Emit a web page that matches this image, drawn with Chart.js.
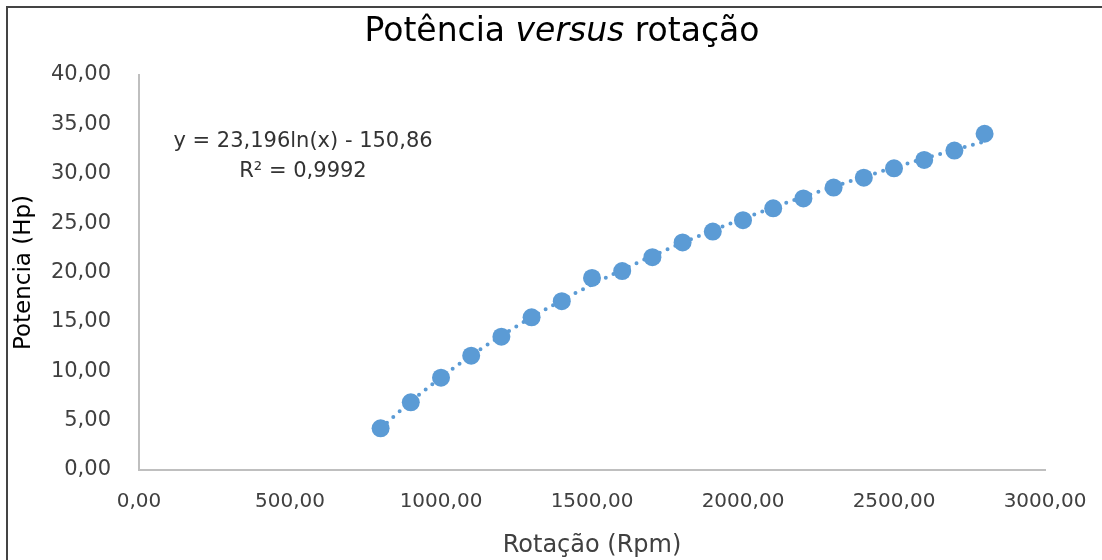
<!DOCTYPE html>
<html>
<head>
<meta charset="utf-8">
<script src="https://cdn.jsdelivr.net/npm/chart.js@4/dist/chart.umd.min.js"></script>
<style>
  html, body { margin: 0; padding: 0; background: #fff; overflow: hidden; }
  #wrap { width: 1102px; height: 560px; }
</style>
</head>
<body>
<div id="wrap"><canvas id="myChart" width="1102" height="560"></canvas></div>
<script>
// dados
const rotacao = [800, 900, 1000, 1100, 1200, 1300, 1400, 1500, 1600, 1700, 1800,
                 1900, 2000, 2100, 2200, 2300, 2400, 2500, 2600, 2700, 2800];
const potencia = [4.22, 6.85, 9.35, 11.58, 13.50, 15.46, 17.10, 19.45, 20.15, 21.55, 23.05,
                  24.15, 25.30, 26.50, 27.50, 28.60, 29.60, 30.55, 31.40, 32.35, 34.05];
// linha de tendência (valores da equação mostrada, nos mesmos pontos)
const tendencia = [4.20, 6.93, 9.37, 11.58, 13.60, 15.46, 17.18, 18.78, 20.27, 21.68, 23.01,
                   24.26, 25.45, 26.58, 27.66, 28.69, 29.68, 30.63, 31.54, 32.41, 33.26];
const equacao = ['y = 23,196ln(x) - 150,86', 'R\u00B2 = 0,9992'];

const azul = '#5B9BD5';
const fonte = "'DejaVu Sans', sans-serif";
const fmt = v => v.toFixed(2).replace('.', ',');

// moldura, título e equação
const extras = {
  id: 'extras',
  beforeDraw(chart) {
    const c = chart.ctx;
    c.save();
    c.fillStyle = '#fff';
    c.fillRect(0, 0, chart.width, chart.height);
    c.strokeStyle = '#444';
    c.lineWidth = 2;
    c.beginPath();
    c.moveTo(1120, 7);
    c.lineTo(7, 7);
    c.lineTo(7, 580);
    c.stroke();
    c.restore();
  },
  afterDraw(chart) {
    const c = chart.ctx;
    c.save();
    // título com "versus" em itálico
    const partes = [['Potência ', ''], ['versus', 'italic '], [' rotação', '']];
    let total = 0;
    partes.forEach(p => { c.font = p[1] + '33px ' + fonte; total += c.measureText(p[0]).width; });
    let x = 562 - total / 2;
    c.fillStyle = '#000';
    c.textBaseline = 'middle';
    partes.forEach(p => {
      c.font = p[1] + '33px ' + fonte;
      c.fillText(p[0], x, 32);
      x += c.measureText(p[0]).width;
    });
    // equação da tendência
    c.font = '21px ' + fonte;
    c.fillStyle = '#333';
    c.textAlign = 'center';
    c.fillText(equacao[0], 303, 142);
    c.fillText(equacao[1], 303, 172);
    c.restore();
  }
};

const ctx = document.getElementById('myChart').getContext('2d');
const myChart = new Chart(ctx, {
  type: 'scatter',
  data: {
    datasets: [{
      label: 'Potência',
      data: rotacao.map((r, i) => ({ x: r, y: potencia[i] })),
      backgroundColor: azul,
      borderColor: azul,
      pointRadius: 9,
      pointBorderWidth: 0,
      order: 1
    }, {
      label: 'Tendência',
      data: rotacao.map((r, i) => ({ x: r, y: tendencia[i] })),
      showLine: true,
      borderColor: azul,
      borderWidth: 4,
      borderDash: [0, 8.5],
      borderCapStyle: 'round',
      cubicInterpolationMode: 'monotone',
      pointRadius: 0,
      order: 2
    }]
  },
  options: {
    responsive: false,
    animation: false,
    layout: { padding: { left: 8, right: 57, top: 75, bottom: 0 } },
    plugins: {
      legend: { display: false },
      tooltip: { enabled: false }
    },
    scales: {
      x: {
        type: 'linear',
        min: 0,
        max: 3000,
        grid: { display: false },
        border: { color: '#bfbfbf', width: 2 },
        ticks: {
          stepSize: 500,
          padding: 12,
          color: '#404040',
          font: { family: fonte, size: 20 },
          callback: v => fmt(v)
        },
        title: {
          display: true,
          text: 'Rotação (Rpm)',
          color: '#404040',
          font: { family: fonte, size: 24 },
          padding: { top: 0, bottom: 0 }
        },
        afterFit: s => { s.height = 90; }
      },
      y: {
        min: 0,
        max: 40,
        grid: { display: false },
        border: { color: '#bfbfbf', width: 2 },
        ticks: {
          stepSize: 5,
          padding: 20,
          color: '#404040',
          font: { family: fonte, size: 21 },
          callback: v => fmt(v)
        },
        title: {
          display: true,
          text: 'Potencia (Hp)',
          color: '#000',
          font: { family: fonte, size: 23 },
          padding: { top: 2, bottom: 0 }
        },
        afterFit: s => { s.width = 131; }
      }
    }
  },
  plugins: [extras]
});
</script>
</body>
</html>
